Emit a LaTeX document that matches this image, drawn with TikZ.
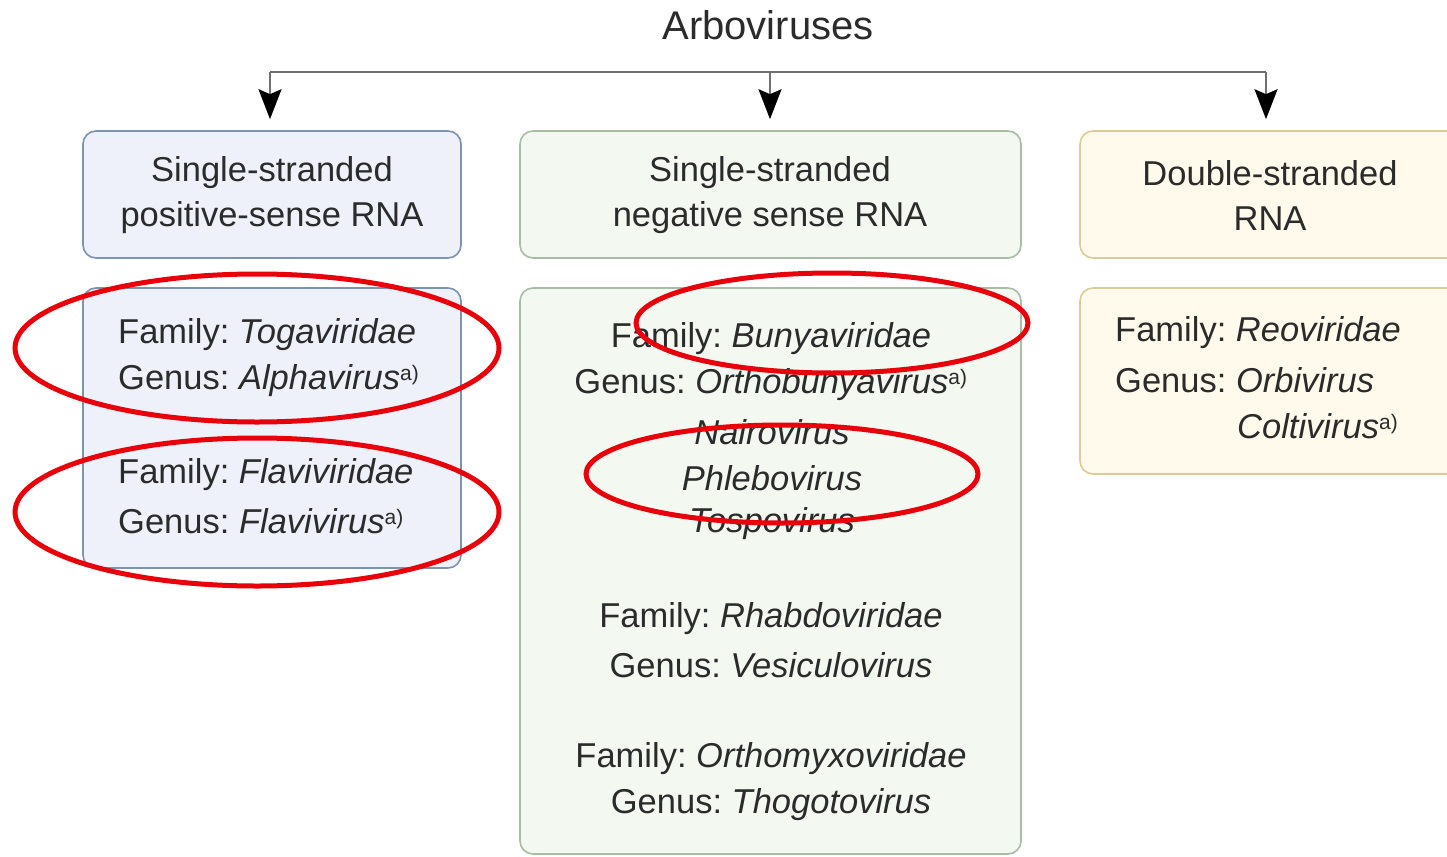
\documentclass[tikz,border=0pt]{standalone}
\usepackage{fontspec}
\setmainfont{Liberation Sans}
\usetikzlibrary{arrows.meta}
\definecolor{txt}{HTML}{2B2B2B}
\definecolor{lnc}{HTML}{707070}
\definecolor{fillA}{HTML}{EEF1FA}
\definecolor{drawA}{HTML}{7C93AE}
\definecolor{fillB}{HTML}{F3F8F1}
\definecolor{drawB}{HTML}{A9BDA6}
\definecolor{fillC}{HTML}{FFFAEB}
\definecolor{drawC}{HTML}{DCCD98}
\definecolor{redmark}{HTML}{E8000B}
\tikzset{
  box/.style={rectangle, rounded corners=13pt, line width=1.6pt, inner sep=0pt},
  boxA/.style={box, fill=fillA, draw=drawA},
  boxB/.style={box, fill=fillB, draw=drawB},
  boxC/.style={box, fill=fillC, draw=drawC},
  lbl/.style={text=txt, inner sep=0pt, font=\fontsize{34.5}{45}\selectfont\frenchspacing},
  hdr/.style={lbl, align=center},
  conn/.style={draw=lnc, line width=2.2pt},
  arr/.style={conn, -{Stealth[length=30pt,width=23pt,inset=5pt,color=black,fill=black]}},
  ring/.style={draw=redmark, line width=5pt},
}
\newcommand{\sfn}{\textsuperscript{\fontsize{21}{21}\selectfont a)}}
\begin{document}
\begin{tikzpicture}[x=1pt,y=-1pt]
\useasboundingbox (0,0) rectangle (1447,856);
% title
\node[lbl, font=\fontsize{40}{45}\selectfont] (title) at (768,25) {Arboviruses};
% header boxes
\node[boxA, minimum width=378pt, minimum height=127pt] (hA) at (272,194.5) {};
\node[boxB, minimum width=501pt, minimum height=127pt] (hB) at (770.5,194.5) {};
\node[boxC, minimum width=400pt, minimum height=127pt] (hC) at (1280,194.5) {};
\node[hdr] (tA) at (272,195) {Single-stranded\\positive-sense RNA};
\node[hdr] (tB) at (770,195) {Single-stranded\\negative sense RNA};
\node[hdr] (tC) at (1270,195) {Double-stranded\\RNA};
% body boxes
\node[boxA, minimum width=378pt, minimum height=280pt] (bA) at (272,428) {};
\node[boxB, minimum width=501pt, minimum height=566pt] (bB) at (770.5,571) {};
\node[boxC, minimum width=400pt, minimum height=186pt] (bC) at (1280,381) {};
% connectors
\coordinate (jL) at (270,72);
\coordinate (jM) at (770,72);
\coordinate (jR) at (1266,72);
\draw[conn] (jL) -- (jR);
\draw[arr] (jL) -- ([yshift=11pt]hA.north -| jL);
\draw[arr] (jM) -- ([yshift=11pt]hB.north -| jM);
\draw[arr] (jR) -- ([yshift=11pt]hC.north -| jR);
% body A text
\node[lbl, anchor=west] (a1) at (118,335) {Family: \textit{Togaviridae}};
\node[lbl, anchor=west] (a2) at (118,381) {Genus: \textit{Alphavirus}\sfn};
\node[lbl, anchor=west] (a3) at (118,475) {Family: \textit{Flaviviridae}};
\node[lbl, anchor=west] (a4) at (118,521) {Genus: \textit{Flavivirus}\sfn};
% body B text
\node[lbl] (b1) at (771,339) {Family: \textit{Bunyaviridae}};
\node[lbl] (b2) at (771,385) {Genus: \textit{Orthobunyavirus}\sfn};
\node[lbl] (b3) at (772,432) {\textit{Nairovirus}};
\node[lbl] (b4) at (772,478) {\textit{Phlebovirus}};
\node[lbl] (b5) at (772,524) {\textit{Tospovirus}};
\node[lbl] (b6) at (771,619) {Family: \textit{Rhabdoviridae}};
\node[lbl] (b7) at (771,665) {Genus: \textit{Vesiculovirus}};
\node[lbl] (b8) at (771,759) {Family: \textit{Orthomyxoviridae}};
\node[lbl] (b9) at (771,805) {Genus: \textit{Thogotovirus}};
% body C text
\node[lbl, anchor=west] (c1) at (1115,333) {Family: \textit{Reoviridae}};
\node[lbl, anchor=west] (c2) at (1115,380) {Genus: \textit{Orbivirus}};
\node[lbl, anchor=west] (c3) at (1237,426) {\textit{Coltivirus}\sfn};
% red ellipses
\draw[ring] (257,348) ellipse [x radius=242, y radius=74];
\draw[ring] (257,512) ellipse [x radius=242, y radius=74];
\draw[ring] (832,323) ellipse [x radius=196, y radius=50];
\draw[ring] (782,474) ellipse [x radius=196, y radius=49];
\end{tikzpicture}
\end{document}
